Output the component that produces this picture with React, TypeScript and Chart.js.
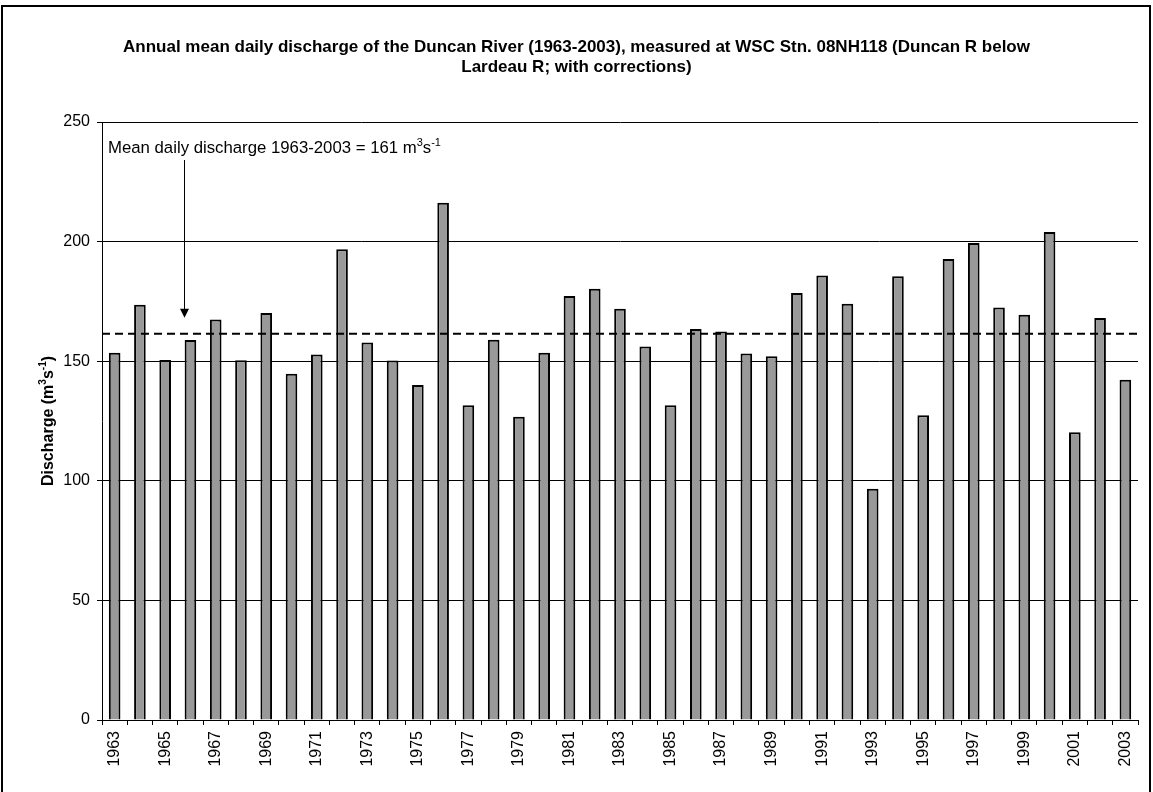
import React, { useEffect, useRef } from 'react';
import { Chart, registerables } from 'chart.js';

Chart.register(...registerables);

const years = [
  '1963', '1964', '1965', '1966', '1967', '1968', '1969', '1970', '1971', '1972',
  '1973', '1974', '1975', '1976', '1977', '1978', '1979', '1980', '1981', '1982',
  '1983', '1984', '1985', '1986', '1987', '1988', '1989', '1990', '1991', '1992',
  '1993', '1994', '1995', '1996', '1997', '1998', '1999', '2000', '2001', '2002', '2003',
];

const discharge = [
  153.5, 173.6, 150.5, 158.9, 167.4, 150.4, 170.2, 144.8, 152.8, 196.8,
  157.8, 150.3, 140.1, 216.2, 131.6, 159.0, 126.8, 153.5, 177.3, 180.3,
  171.9, 156.1, 131.6, 163.5, 162.4, 153.2, 152.1, 178.5, 185.8, 174.0,
  96.7, 185.5, 127.4, 192.7, 199.4, 172.5, 169.4, 204.0, 120.3, 168.1, 142.2,
];

const meanDischarge = 161.5;
const yMin = 0;
const yMax = 250;
const yStep = 50;

const titleLines = [
  'Annual mean daily discharge of the Duncan River (1963-2003), measured at WSC Stn. 08NH118 (Duncan R below',
  'Lardeau R; with corrections)',
];

const FONT = '"Liberation Sans", Arial, Helvetica, sans-serif';

type Part = { t: string; sup?: boolean };

const annotationParts: Part[] = [
  { t: 'Mean daily discharge 1963-2003 = 161 m' },
  { t: '3', sup: true },
  { t: 's' },
  { t: '-1', sup: true },
];

const yTitleParts: Part[] = [
  { t: 'Discharge (m' },
  { t: '3', sup: true },
  { t: 's' },
  { t: '-1', sup: true },
  { t: ')' },
];

function measureParts(ctx: CanvasRenderingContext2D, parts: Part[], size: number, weight: string) {
  let w = 0;
  for (const p of parts) {
    ctx.font = `${weight} ${p.sup ? Math.round(size * 0.65) : size}px ${FONT}`;
    w += ctx.measureText(p.t).width;
  }
  return w;
}

function drawParts(
  ctx: CanvasRenderingContext2D,
  parts: Part[],
  x: number,
  y: number,
  size: number,
  weight: string,
) {
  let cx = x;
  ctx.textAlign = 'left';
  ctx.textBaseline = 'alphabetic';
  for (const p of parts) {
    const s = p.sup ? Math.round(size * 0.65) : size;
    ctx.font = `${weight} ${s}px ${FONT}`;
    ctx.fillText(p.t, cx, p.sup ? y - size * 0.4 : y);
    cx += ctx.measureText(p.t).width;
  }
}

const overlayPlugin = {
  id: 'overlay',
  afterDatasetsDraw(chart: any) {
    const { ctx, chartArea, scales } = chart;
    ctx.save();
    // mean line
    const ym = scales.y.getPixelForValue(meanDischarge);
    ctx.strokeStyle = '#000';
    ctx.lineWidth = 2;
    ctx.setLineDash([8, 5]);
    ctx.beginPath();
    ctx.moveTo(chartArea.left, ym);
    ctx.lineTo(chartArea.right, ym);
    ctx.stroke();
    ctx.setLineDash([]);

    // annotation text
    ctx.fillStyle = '#000';
    drawParts(ctx, annotationParts, chartArea.left + 6, chartArea.top + 31, 16.75, 'normal');

    // arrow
    const ax = chartArea.left + 82.5;
    const tipY = ym - 16;
    ctx.lineWidth = 1;
    ctx.beginPath();
    ctx.moveTo(ax, chartArea.top + 38);
    ctx.lineTo(ax, tipY - 6);
    ctx.stroke();
    ctx.beginPath();
    ctx.moveTo(ax, tipY);
    ctx.lineTo(ax - 4.5, tipY - 9);
    ctx.lineTo(ax + 4.5, tipY - 9);
    ctx.closePath();
    ctx.fill();
    ctx.restore();
  },
  afterDraw(chart: any) {
    const { ctx, chartArea } = chart;
    ctx.save();
    ctx.fillStyle = '#000';
    // title
    ctx.font = `bold 17px ${FONT}`;
    ctx.textAlign = 'center';
    ctx.textBaseline = 'alphabetic';
    const cx = chart.width / 2;
    ctx.fillText(titleLines[0], cx, 52);
    ctx.fillText(titleLines[1], cx, 72);

    // y axis title (rotated)
    const w = measureParts(ctx, yTitleParts, 16, 'bold');
    const yc = (chartArea.top + chartArea.bottom) / 2;
    ctx.translate(52.5, yc);
    ctx.rotate(-Math.PI / 2);
    drawParts(ctx, yTitleParts, -w / 2, 0, 16, 'bold');
    ctx.restore();
  },
};

export default function App() {
  const canvasRef = useRef<HTMLCanvasElement | null>(null);

  useEffect(() => {
    const canvas = canvasRef.current;
    if (!canvas) return;
    const chart = new Chart(canvas, {
      type: 'bar',
      data: {
        labels: years,
        datasets: [
          {
            data: discharge,
            backgroundColor: '#999999',
            borderColor: '#000000',
            borderWidth: 2,
            barPercentage: 0.46,
            categoryPercentage: 1,
          },
        ],
      },
      options: {
        animation: false,
        responsive: false,
        maintainAspectRatio: false,
        events: [],
        layout: { padding: { left: 0, right: 15, top: 122, bottom: 0 } },
        plugins: {
          legend: { display: false },
          title: { display: false },
          tooltip: { enabled: false },
        },
        scales: {
          x: {
            offset: true,
            afterFit: (scale: any) => {
              scale.height = 72;
            },
            grid: {
              offset: true,
              drawOnChartArea: false,
              drawTicks: true,
              tickLength: 5,
              color: '#000',
              lineWidth: 1,
            },
            border: { display: true, color: '#000', width: 1 },
            ticks: {
              autoSkip: false,
              maxRotation: 90,
              minRotation: 90,
              padding: 6,
              color: '#000',
              font: { family: FONT, size: 16 },
              callback: (_v: any, i: number) => (i % 2 === 0 ? years[i] : ''),
            },
          },
          y: {
            min: yMin,
            max: yMax,
            afterFit: (scale: any) => {
              scale.width = 102;
            },
            grid: {
              drawTicks: true,
              tickLength: 5,
              color: '#000',
              lineWidth: 1,
            },
            border: { display: true, color: '#000', width: 1 },
            ticks: {
              stepSize: yStep,
              padding: 7,
              color: '#000',
              font: { family: FONT, size: 16 },
            },
          },
        },
      },
      plugins: [overlayPlugin],
    });
    return () => chart.destroy();
  }, []);

  return (
    <div
      style={{
        position: 'fixed',
        left: 0,
        top: 0,
        width: 1153,
        height: 792,
        overflow: 'hidden',
        background: '#fff',
      }}
    >
      <div
        style={{
          position: 'absolute',
          left: 1,
          top: 5,
          width: 1146,
          height: 820,
          border: '2px solid #000',
        }}
      />
      <canvas
        ref={canvasRef}
        width={1153}
        height={792}
        style={{ position: 'absolute', left: 0, top: 0, width: 1153, height: 792 }}
      />
    </div>
  );
}
